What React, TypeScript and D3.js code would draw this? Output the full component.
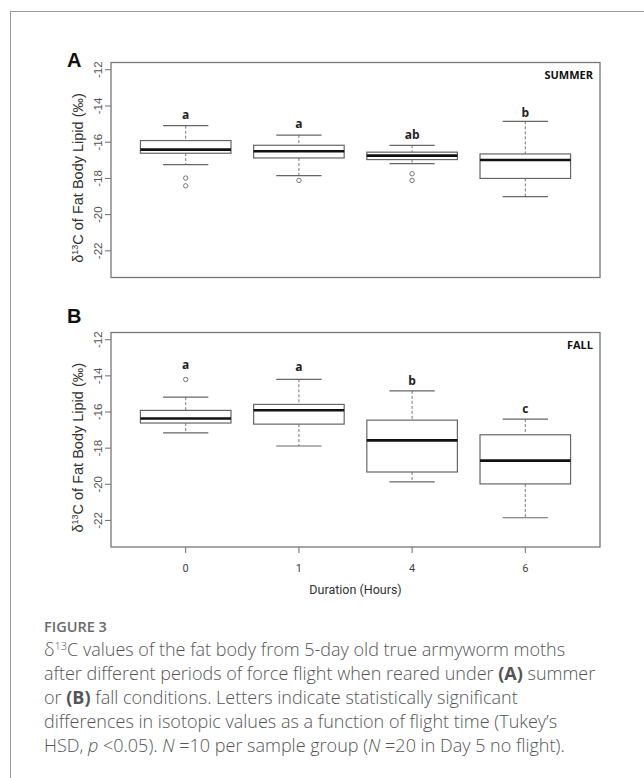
import React from 'react';
import * as d3 from 'd3';

// durations of forced flight (hours)
const durations = ['0', '1', '4', '6'];
const yTicks = [-12, -14, -16, -18, -20, -22];

// panel A (summer) box stats
const summerLow = [-17.24, -17.85, -17.18, -19.0];
const summerQ1 = [-16.61, -16.87, -16.96, -18.0];
const summerMed = [-16.41, -16.5, -16.74, -16.98];
const summerQ3 = [-15.91, -16.17, -16.55, -16.65];
const summerHigh = [-15.09, -15.61, -16.17, -14.85];
const summerOutliers = [[-17.98, -18.41], [-18.11], [-17.74, -18.11], []];
const summerLetters = ['a', 'a', 'ab', 'b'];
const summerLetterY = [-14.72, -15.24, -15.8, -14.59];

// panel B (fall) box stats
const fallLow = [-17.15, -17.88, -19.87, -21.85];
const fallQ1 = [-16.61, -16.67, -19.32, -19.98];
const fallMed = [-16.36, -15.9, -17.57, -18.69];
const fallQ3 = [-15.91, -15.58, -16.45, -17.26];
const fallHigh = [-15.18, -14.19, -14.83, -16.39];
const fallOutliers = [[-14.2], [], [], []];
const fallLetters = ['a', 'a', 'b', 'c'];
const fallLetterY = [-13.64, -13.75, -14.5, -16.05];

const left = 111;
const right = 600;
const axisGray = '#6b6b6b';

type PanelProps = {
  top: number;
  bottom: number;
  tag: string;
  tagY: number;
  season: string;
  low: number[];
  q1: number[];
  med: number[];
  q3: number[];
  high: number[];
  outliers: number[][];
  letters: string[];
  letterY: number[];
  showX: boolean;
};

const Panel = (p: PanelProps) => {
  const x = d3.scaleLinear().domain([0.34, 4.66]).range([left, right]);
  const y = d3.scaleLinear().domain([-23.47, -11.6]).range([p.bottom, p.top]);
  const boxW = x(0.8) - x(0);
  const capW = boxW / 2;
  const midY = (p.top + p.bottom) / 2;

  return (
    <g>
      <text x={67} y={p.tagY} fontFamily="Liberation Sans, Arial, sans-serif" fontWeight="bold" fontSize={20} fill="#111">
        {p.tag}
      </text>

      {/* y axis */}
      {yTicks.map(t => (
        <g key={t}>
          <line x1={left - 6} x2={left} y1={y(t)} y2={y(t)} stroke={axisGray} strokeWidth={1} />
          <text
            transform={`translate(97.5,${y(t)}) rotate(-90)`}
            dy="0.35em"
            textAnchor="middle"
            fontFamily="Liberation Sans, Arial, sans-serif"
            fontSize={11.5}
            fill="#555"
          >
            {t}
          </text>
        </g>
      ))}
      <text
        transform={`translate(83,${midY + 8}) rotate(-90)`}
        textAnchor="middle"
        fontFamily="Liberation Sans, Arial, sans-serif"
        fontSize={14.5}
        fill="#333"
      >
        δ<tspan fontSize={9} dy={-5}>13</tspan><tspan dy={5}>C of Fat Body Lipid (‰)</tspan>
      </text>

      {/* boxes */}
      {durations.map((d, i) => {
        const cx = x(i + 1);
        return (
          <g key={d}>
            <line x1={cx} x2={cx} y1={y(p.high[i])} y2={y(p.q3[i])} stroke="#777" strokeWidth={1} strokeDasharray="3,2" />
            <line x1={cx} x2={cx} y1={y(p.q1[i])} y2={y(p.low[i])} stroke="#777" strokeWidth={1} strokeDasharray="3,2" />
            <line x1={cx - capW / 2} x2={cx + capW / 2} y1={y(p.high[i])} y2={y(p.high[i])} stroke="#666" strokeWidth={1.2} />
            <line x1={cx - capW / 2} x2={cx + capW / 2} y1={y(p.low[i])} y2={y(p.low[i])} stroke="#666" strokeWidth={1.2} />
            <rect
              x={cx - boxW / 2}
              y={y(p.q3[i])}
              width={boxW}
              height={y(p.q1[i]) - y(p.q3[i])}
              fill="#fff"
              stroke="#666"
              strokeWidth={1.2}
            />
            <line x1={cx - boxW / 2} x2={cx + boxW / 2} y1={y(p.med[i])} y2={y(p.med[i])} stroke="#111" strokeWidth={2.6} />
            {p.outliers[i].map((o, j) => (
              <circle key={j} cx={cx} cy={y(o)} r={2.2} fill="none" stroke="#666" strokeWidth={0.9} />
            ))}
            <text
              x={cx}
              y={y(p.letterY[i])}
              textAnchor="middle"
              fontFamily="Open Sans, Lato, sans-serif"
              fontWeight="bold"
              fontSize={12}
              fill="#222"
            >
              {p.letters[i]}
            </text>
            {p.showX && (
              <g>
                <line x1={cx} x2={cx} y1={p.bottom} y2={p.bottom + 6} stroke={axisGray} strokeWidth={1} />
                <text
                  x={cx}
                  y={p.bottom + 25}
                  textAnchor="middle"
                  fontFamily="Liberation Sans Narrow, Arial Narrow, Roboto, sans-serif"
                  fontSize={11}
                  fill="#444"
                >
                  {d}
                </text>
              </g>
            )}
          </g>
        );
      })}

      <rect x={left} y={p.top} width={right - left} height={p.bottom - p.top} fill="none" stroke="#777" strokeWidth={1.3} />
      <text
        x={593}
        y={p.top + 16.5}
        textAnchor="end"
        fontFamily="Open Sans, Lato, sans-serif"
        fontWeight="bold"
        fontSize={11}
        fill="#111"
      >
        {p.season}
      </text>
    </g>
  );
};

const captionLines = [
  'after different periods of force flight when reared under ',
];

export default function App() {
  const capFont = 'Open Sans, Lato, sans-serif';
  return (
    <svg width={644} height={778} style={{ position: 'absolute', left: 0, top: 0, background: '#fff' }}>
      <rect x={10.5} y={11.5} width={700} height={800} fill="#fff" stroke="#9a9a9a" strokeWidth={1} />
      <Panel
        top={62.5}
        bottom={277.5}
        tag="A"
        tagY={67}
        season="SUMMER"
        low={summerLow}
        q1={summerQ1}
        med={summerMed}
        q3={summerQ3}
        high={summerHigh}
        outliers={summerOutliers}
        letters={summerLetters}
        letterY={summerLetterY}
        showX={false}
      />
      <Panel
        top={332.5}
        bottom={547}
        tag="B"
        tagY={322.5}
        season="FALL"
        low={fallLow}
        q1={fallQ1}
        med={fallMed}
        q3={fallQ3}
        high={fallHigh}
        outliers={fallOutliers}
        letters={fallLetters}
        letterY={fallLetterY}
        showX={true}
      />
      <text
        x={355.5}
        y={594}
        textAnchor="middle"
        fontFamily="Liberation Sans Narrow, Arial Narrow, Roboto, sans-serif"
        fontSize={12.5}
        fill="#333"
      >
        Duration (Hours)
      </text>

      <text x={44} y={632} fontFamily={capFont} fontWeight={600} fontSize={14.5} fill="#6a6a6a">
        FIGURE 3
      </text>
      <g fontFamily={capFont} fontSize={18} fill="#555" fontWeight={300}>
        <text x={44} y={656}>
          δ<tspan fontSize={11} dy={-6}>13</tspan>
          <tspan dy={6}>C values of the fat body from 5-day old true armyworm moths</tspan>
        </text>
        <text x={44} y={680}>
          {captionLines[0]}
          <tspan fontWeight="bold">(A)</tspan> summer
        </text>
        <text x={44} y={704}>
          or <tspan fontWeight="bold">(B)</tspan> fall conditions. Letters indicate statistically significant
        </text>
        <text x={44} y={728}>
          differences in isotopic values as a function of flight time (Tukey’s
        </text>
        <text x={44} y={752}>
          HSD, <tspan fontStyle="italic">p</tspan> {'<0.05). '}
          <tspan fontStyle="italic">N</tspan> =10 per sample group (<tspan fontStyle="italic">N</tspan> =20 in Day 5 no flight).
        </text>
      </g>
    </svg>
  );
}
